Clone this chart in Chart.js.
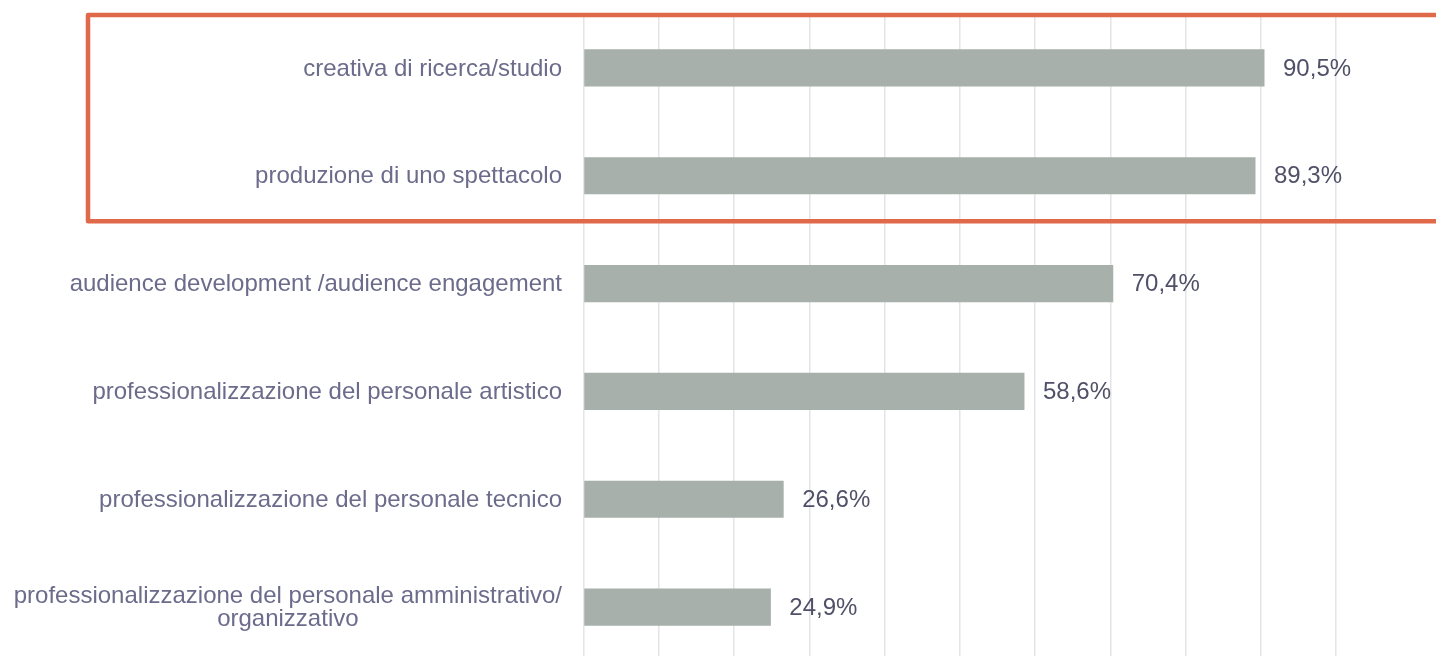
<!DOCTYPE html>
<html>
<head>
<meta charset="utf-8">
<script src="https://cdn.jsdelivr.net/npm/chart.js@4"></script>
<style>
  body { margin: 0; background: #fff; overflow: hidden; }
  #wrap { width: 1436px; height: 656px; overflow: hidden; }
</style>
</head>
<body>
<div id="wrap"><canvas id="barchart" width="1436" height="661"></canvas></div>
<script>
// categories (multi-line label as array)
const categories = [
  "creativa di ricerca/studio",
  "produzione di uno spettacolo",
  "audience development /audience engagement",
  "professionalizzazione del personale artistico",
  "professionalizzazione del personale tecnico",
  ["professionalizzazione del personale amministrativo/", "organizzativo"]
];
const values = [90.5, 89.3, 70.4, 58.6, 26.6, 24.9];
const axisMax = 100;
const axisStep = 10;
// which categories sit inside the highlight box
const highlighted = [0, 1];

const labelFont = "24px 'Liberation Sans', Arial, sans-serif";

//category labels, drawn from the y scale
const categoryLabels = {
  id: "categoryLabels",
  afterDraw(chart) {
    const ctx = chart.ctx;
    const yScale = chart.scales.y;
    const right = chart.chartArea.left - 21.5;
    ctx.save();
    ctx.font = labelFont;
    ctx.fillStyle = "#6b6b8b";
    ctx.textBaseline = "middle";
    chart.data.labels.forEach((lab, i) => {
      const lines = Array.isArray(lab) ? lab : [lab];
      const y = yScale.getPixelForValue(i) + 1;
      const lineH = 22.5;
      const maxW = Math.max(...lines.map((l) => ctx.measureText(l).width));
      const cx = right - maxW / 2;
      lines.forEach((l, k) => {
        const ly = y + (k - (lines.length - 1) / 2) * lineH;
        if (lines.length > 1) {
          ctx.textAlign = "center";
          ctx.fillText(l, cx, ly);
        } else {
          ctx.textAlign = "right";
          ctx.fillText(l, right, ly);
        }
      });
    });
    ctx.restore();
  },
};

//value labels at the end of each bar
const valueLabels = {
  id: "valueLabels",
  afterDatasetsDraw(chart) {
    const ctx = chart.ctx;
    const meta = chart.getDatasetMeta(0);
    ctx.save();
    ctx.font = labelFont;
    ctx.fillStyle = "#505068";
    ctx.textAlign = "left";
    ctx.textBaseline = "middle";
    meta.data.forEach((bar, i) => {
      const txt = values[i].toFixed(1).replace(".", ",") + "%";
      ctx.fillText(txt, bar.x + 18.5, bar.y + 1);
    });
    ctx.restore();
  },
};

//orange highlight box round the first two categories
const highlightBox = {
  id: "highlightBox",
  afterDraw(chart) {
    const ctx = chart.ctx;
    const yScale = chart.scales.y;
    const top = yScale.getPixelForValue(highlighted[0]) - 53;
    const bottom = yScale.getPixelForValue(highlighted[highlighted.length - 1]) + 45.5;
    ctx.save();
    ctx.strokeStyle = "#e0694a";
    ctx.lineWidth = 4.5;
    ctx.lineJoin = "round";
    ctx.beginPath();
    ctx.moveTo(chart.width + 10, top);
    ctx.lineTo(88, top);
    ctx.lineTo(88, bottom);
    ctx.lineTo(chart.width + 10, bottom);
    ctx.stroke();
    ctx.restore();
  },
};

var barCanvas = document.getElementById("barchart").getContext("2d");
var barChart = new Chart(barCanvas, {
  type: "bar",
  data: {
    labels: categories,
    datasets: [
      {
        data: values,
        backgroundColor: "#a7b0aa",
        borderWidth: 0,
        barPercentage: 0.345,
        categoryPercentage: 1,
      },
    ],
  },
  options: {
    indexAxis: "y",
    responsive: false,
    animation: false,
    layout: {
      padding: { left: 583.5, right: 100, top: 14, bottom: 0 },
    },
    plugins: {
      legend: { display: false },
      tooltip: { enabled: false },
    },
    scales: {
      x: {
        min: 0,
        max: axisMax,
        ticks: { display: false, stepSize: axisStep },
        grid: { color: "#e3e3ea", lineWidth: 1.5, drawTicks: false },
        border: { display: false },
      },
      y: {
        display: false,
      },
    },
  },
  plugins: [categoryLabels, valueLabels, highlightBox],
});
</script>
</body>
</html>
